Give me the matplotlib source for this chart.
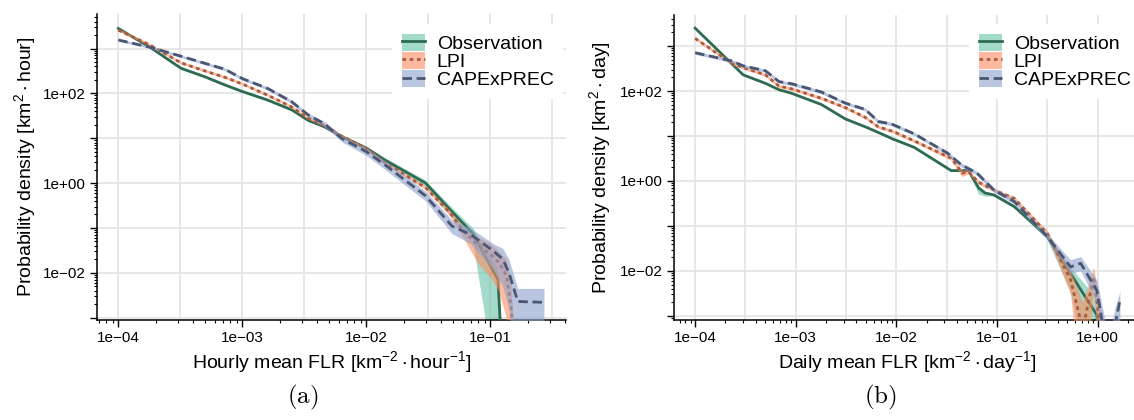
import numpy as np
import matplotlib
matplotlib.use("Agg")
import matplotlib.pyplot as plt
from matplotlib.ticker import LogLocator, FuncFormatter, NullFormatter
from matplotlib.patches import Patch
from matplotlib.lines import Line2D

plt.rcParams["font.family"] = ["Liberation Sans", "DejaVu Sans"]
plt.rcParams["mathtext.fontset"] = "custom"
plt.rcParams["mathtext.rm"] = "Liberation Sans"
plt.rcParams["mathtext.it"] = "Liberation Sans:italic"
plt.rcParams["mathtext.default"] = "regular"

# ---- (a) hourly mean FLR ----
x_obs_h = [1e-4, 1.8e-4, 3.2e-4, 5e-4, 7.2e-4, 1e-3, 1.6e-3, 2.5e-3, 3.4e-3, 4.6e-3,
           6.3e-3, 1e-2, 1.4e-2, 3e-2, 4.7e-2, 7.2e-2, 8.9e-2, 0.115, 0.13]
y_obs_h = [2800, 1070, 363, 234, 155, 110, 71, 43, 25, 18,
           11, 6.0, 3.3, 1.0, 0.26, 0.075, 0.026, 0.007, 1e-5]
lo_obs_h = [2650, 1010, 340, 220, 146, 103, 66, 40, 23.5, 16.5,
            10, 5.4, 2.9, 0.85, 0.2, 0.055, 0.0015, 1e-5, 1e-6]
hi_obs_h = [2950, 1130, 385, 248, 165, 117, 76, 46, 26.5, 19.5,
            12, 6.6, 3.7, 1.15, 0.32, 0.1, 0.04, 0.012, 1e-4]

x_lpi_h = [1e-4, 1.8e-4, 3.2e-4, 5e-4, 7.2e-4, 1e-3, 1.6e-3, 2.5e-3, 3.4e-3, 4.6e-3,
           6.3e-3, 1e-2, 1.4e-2, 3e-2, 4.7e-2, 6.3e-2, 8.1e-2, 0.1, 0.117, 0.135, 0.148, 0.16]
y_lpi_h = [2570, 1200, 480, 316, 229, 162, 91, 50, 28, 19,
           11.2, 5.9, 2.9, 0.79, 0.22, 0.075, 0.04, 0.026, 0.017, 0.0085, 0.0014, 1e-5]
lo_lpi_h = [2400, 1120, 450, 296, 214, 152, 85, 47, 26, 17.8,
            10.5, 5.5, 2.7, 0.72, 0.19, 0.05, 0.015, 0.008, 0.004, 0.001, 1e-5, 1e-6]
hi_lpi_h = [2750, 1280, 510, 336, 244, 172, 97, 53, 30, 20.2,
            12, 6.3, 3.1, 0.86, 0.25, 0.09, 0.06, 0.045, 0.03, 0.02, 0.006, 1e-4]

x_cape_h = [1e-4, 1.8e-4, 3.2e-4, 5e-4, 7.2e-4, 1e-3, 1.6e-3, 2.5e-3, 3.4e-3, 4.6e-3,
            6.3e-3, 1e-2, 1.4e-2, 3e-2, 4.9e-2, 6.9e-2, 0.105, 0.126, 0.141, 0.166, 0.27]
y_cape_h = [1550, 1070, 676, 468, 347, 214, 129, 65, 33, 21,
            10, 5.0, 2.6, 0.52, 0.11, 0.072, 0.031, 0.020, 0.01, 0.0023, 0.0022]
lo_cape_h = [1450, 1000, 630, 435, 322, 198, 119, 59, 30, 18.5,
             8.4, 4.1, 2.05, 0.4, 0.075, 0.045, 0.012, 0.005, 0.0015, 1e-5, 1e-5]
hi_cape_h = [1650, 1140, 720, 500, 372, 230, 139, 71, 36, 23.5,
             11.5, 6.0, 3.2, 0.66, 0.15, 0.1, 0.045, 0.035, 0.02, 0.0045, 0.0045]

# ---- (b) daily mean FLR ----
x_obs_d = [1e-4, 3e-4, 5e-4, 6.8e-4, 9.1e-4, 1.8e-3, 3.1e-3, 4.9e-3, 6.6e-3, 9.3e-3,
           1.5e-2, 3.5e-2, 5.2e-2, 6.6e-2, 7.6e-2, 9.3e-2, 0.148, 0.316, 0.537, 0.98, 1.12]
y_obs_d = [2500, 229, 148, 107, 89, 50, 24, 16, 12, 8.5,
           5.6, 1.7, 1.7, 0.69, 0.54, 0.49, 0.27, 0.058, 0.0087, 0.00105, 1e-5]
lo_obs_d = [2380, 218, 141, 102, 85, 47.5, 22.8, 15.2, 11.4, 8.1,
            5.3, 1.6, 1.6, 0.5, 0.45, 0.45, 0.25, 0.05, 0.0035, 1e-5, 1e-6]
hi_obs_d = [2630, 240, 155, 112, 93, 52.5, 25.2, 16.8, 12.6, 8.9,
            5.9, 1.8, 1.8, 0.75, 0.58, 0.52, 0.29, 0.066, 0.012, 0.0025, 1e-4]

x_lpi_d = [1e-4, 2.3e-4, 3e-4, 5e-4, 6.8e-4, 9.1e-4, 1.8e-3, 3.1e-3, 4.9e-3, 6.6e-3,
           9.3e-3, 1.5e-2, 3.5e-2, 4.5e-2, 5.2e-2, 6.6e-2, 7.6e-2, 9.3e-2, 0.148, 0.316,
           0.537, 0.71, 0.91, 1.1]
y_lpi_d = [1480, 417, 331, 229, 129, 112, 69, 43, 26, 16,
           12.6, 7.8, 3.2, 1.5, 1.6, 0.93, 0.79, 0.63, 0.41, 0.068,
           0.0063, 5e-4, 0.0074, 3e-4]
lo_lpi_d = [1370, 385, 306, 212, 119, 104, 64, 40, 24, 14.8,
            11.7, 7.2, 2.9, 1.25, 1.45, 0.85, 0.72, 0.58, 0.37, 0.06,
            0.003, 1e-5, 0.004, 1e-5]
hi_lpi_d = [1600, 450, 358, 247, 139, 121, 75, 46, 28, 17.3,
            13.6, 8.4, 3.5, 1.75, 1.75, 1.0, 0.86, 0.69, 0.45, 0.078,
            0.01, 0.002, 0.012, 0.001]

x_cape_d = [1e-4, 2.3e-4, 3e-4, 5e-4, 6.8e-4, 9.1e-4, 1.8e-3, 3.1e-3, 4.9e-3, 6.6e-3,
            8.9e-3, 1.5e-2, 3.2e-2, 4.4e-2, 6.3e-2, 9.3e-2, 0.148, 0.316, 0.537, 0.676,
            0.98, 1.29, 1.48, 1.66]
y_cape_d = [710, 468, 363, 282, 162, 145, 95, 54, 39, 21,
            18.6, 11.2, 4.2, 2.3, 1.5, 0.63, 0.35, 0.058, 0.0123, 0.0148,
            0.0037, 1e-4, 6e-4, 0.0022]
lo_cape_d = [655, 430, 334, 260, 149, 133, 87, 50, 36, 19,
             17, 10.3, 3.8, 2.05, 1.35, 0.56, 0.31, 0.05, 0.0089, 0.01,
             0.002, 1e-5, 1e-5, 0.0008]
hi_cape_d = [770, 505, 392, 305, 175, 157, 103, 58, 42, 23,
             20.2, 12.1, 4.6, 2.55, 1.65, 0.7, 0.39, 0.066, 0.0178, 0.021,
             0.0063, 3e-4, 0.0015, 0.0035]

labels = ["Observation", "LPI", "CAPExPREC"]
fills = ["#66c2a5", "#fc8d62", "#8da0cb"]
lines = ["#2e6b52", "#a85a3c", "#4b5672"]
dashes = [(None, None), (1.3, 1.3), (3.4, 1.7)]

W, H = 1134, 420
fig = plt.figure(figsize=(W / 100, H / 100), dpi=100)


def sci(v, pos):
    return f"{v:.0e}".replace("-", "\u2212")


def sci_even(v, pos):
    e = int(round(np.log10(v)))
    return sci(v, pos) if e % 2 == 0 else ""


def panel(rect, series, xlim, ylim, xlabel, ylabel, xlab_pos, ylab_pos, leg_xy, tag, tag_xy):
    ax = fig.add_axes(rect)
    ax.set_xscale("log")
    ax.set_yscale("log")
    for k in np.arange(-10, 4):
        ax.axvline(10.0 ** (k / 2), color="#e5e5e5", lw=1.3, zorder=0)
    for k in range(-5, 6):
        ax.axhline(10.0 ** k, color="#e5e5e5", lw=1.3, zorder=0)
    for i, (x, y, lo, hi) in enumerate(series):
        ax.fill_between(x, lo, hi, color=fills[i], alpha=0.6, lw=0, zorder=2 + 2 * i)
        ln, = ax.plot(x, y, color=lines[i], lw=2.0, zorder=3 + 2 * i)
        if dashes[i][0] is not None:
            ln.set_dashes(dashes[i])
    ax.set_xlim(*xlim)
    ax.set_ylim(*ylim)
    for s in ("top", "right"):
        ax.spines[s].set_visible(False)
    for s in ("left", "bottom"):
        ax.spines[s].set_linewidth(1.1)
    ax.xaxis.set_major_locator(LogLocator(base=10, numticks=30))
    ax.xaxis.set_minor_locator(LogLocator(base=10, subs=np.arange(2, 10), numticks=30))
    ax.yaxis.set_major_locator(LogLocator(base=10, numticks=30))
    ax.yaxis.set_minor_locator(LogLocator(base=10, subs=np.arange(2, 10), numticks=30))
    ax.xaxis.set_major_formatter(FuncFormatter(sci))
    ax.yaxis.set_major_formatter(FuncFormatter(sci_even))
    ax.xaxis.set_minor_formatter(NullFormatter())
    ax.yaxis.set_minor_formatter(NullFormatter())
    ax.tick_params(which="major", length=5, width=1.0, labelsize=11, pad=3)
    ax.tick_params(which="minor", length=2.5, width=0.8)
    ax.set_xlabel(xlabel, fontsize=14, va="center")
    ax.xaxis.set_label_coords(*xlab_pos)
    ax.set_ylabel(ylabel, fontsize=14, va="center")
    ax.yaxis.set_label_coords(*ylab_pos)

    handles = [(Patch(facecolor=fills[i], alpha=0.6, edgecolor="none"),
                Line2D([], [], color=lines[i], lw=2.0,
                       dashes=dashes[i] if dashes[i][0] is not None else (None, None)))
               for i in range(3)]
    leg = ax.legend(handles, labels, loc="upper left", bbox_to_anchor=leg_xy,
                    bbox_transform=fig.transFigure, fontsize=14, frameon=True,
                    framealpha=1, edgecolor="none", fancybox=False,
                    borderpad=0.5, borderaxespad=0, handlelength=1.2,
                    handleheight=0.96, handletextpad=0.6, labelspacing=-0.05)
    leg.set_zorder(20)
    fig.text(tag_xy[0], tag_xy[1], tag, fontsize=18, ha="center", va="center",
             math_fontfamily="cm")
    return ax


series_h = [(x_obs_h, y_obs_h, lo_obs_h, hi_obs_h),
            (x_lpi_h, y_lpi_h, lo_lpi_h, hi_lpi_h),
            (x_cape_h, y_cape_h, lo_cape_h, hi_cape_h)]
series_d = [(x_obs_d, y_obs_d, lo_obs_d, hi_obs_d),
            (x_lpi_d, y_lpi_d, lo_lpi_d, hi_lpi_d),
            (x_cape_d, y_cape_d, lo_cape_d, hi_cape_d)]

# left panel: px 97..566 wide, 14..319.5 tall
panel([97 / W, 1 - 319.5 / H, 469 / W, 305.5 / H], series_h,
      (10 ** -4.172, 10 ** -0.391), (10 ** -3.04, 10 ** 3.77),
      r"Hourly mean FLR [km$^{-2}\cdot$hour$^{-1}$]",
      r"Probability density [km$^{2}\cdot$hour]",
      (0.5, -(362 - 319.5) / 305.5), ((25 - 97) / 469, 0.5),
      (392 / W, 1 - 24 / H), r"$\mathrm{(a)}$", (303 / W, 1 - 397 / H))

# right panel: px 673.5..1134 wide, 15..320 tall
panel([673.5 / W, 1 - 320 / H, 460.5 / W, 305 / H], series_d,
      (10 ** -4.215, 10 ** 0.36), (10 ** -3.09, 10 ** 3.69),
      r"Daily mean FLR [km$^{-2}\cdot$day$^{-1}$]",
      r"Probability density [km$^{2}\cdot$day]",
      (0.507, -(362 - 320) / 305), ((600 - 673.5) / 460.5, 0.5),
      (969 / W, 1 - 24 / H), r"$\mathrm{(b)}$", (880 / W, 1 - 397 / H))

fig.savefig("out.png", dpi=100)
